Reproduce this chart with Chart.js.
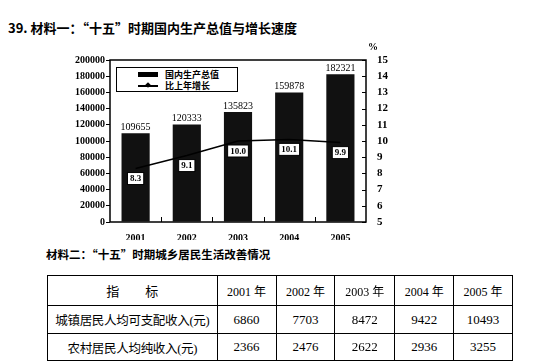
<!DOCTYPE html>
<html>
<head>
<meta charset="utf-8">
<script src="https://cdn.jsdelivr.net/npm/chart.js@4.4.0/dist/chart.umd.min.js"></script>
<style>
  body { margin: 0; width: 553px; height: 363px; background: #fff; position: relative; overflow: hidden; font-family: 'Liberation Serif', 'Noto Sans CJK SC', serif; color: #000; }
  .title1 { position: absolute; left: 8px; top: 18px; font: bold 13px 'Noto Sans CJK SC', sans-serif; white-space: nowrap; }
  .title2 { position: absolute; left: 46px; top: 246px; font: bold 11.5px 'Noto Sans CJK SC', sans-serif; white-space: nowrap; }
  #wrap { position: absolute; left: 0; top: 35px; width: 400px; height: 205px; }
  .pct { position: absolute; left: 368px; top: 41px; font: bold 10px 'Liberation Serif', serif; }
  .legend { position: absolute; left: 116px; top: 67px; width: 120px; height: 23px; border: 1px solid #000; background: #fff; font: bold 9px 'Noto Sans CJK SC', sans-serif; }
  .legend .row { position: absolute; left: 22px; height: 11px; line-height: 11px; white-space: nowrap; }
  .legend .sw { position: absolute; left: -1px; width: 20px; }
  .legend .lbl { position: absolute; left: 26px; top: 0; }
  table { position: absolute; left: 47px; top: 275px; width: 466px; border-collapse: collapse; table-layout: fixed; }
  td { border: 1.5px solid #000; text-align: center; padding: 0; font-size: 13px; white-space: nowrap; overflow: hidden; }
  td.hd { font-size: 12px; }
  td.nm { font-size: 12.5px; letter-spacing: -0.3px; }
</style>
</head>
<body>
<div class="title1">39. 材料一：“十五”时期国内生产总值与增长速度</div>
<div id="wrap"><canvas id="gdpChart" width="400" height="205"></canvas></div>
<div class="pct">%</div>
<div class="legend">
  <div class="row" style="top:1px"><div class="sw" style="top:3px;height:5px;background:#000"></div><div class="lbl">国内生产总值</div></div>
  <div class="row" style="top:12px"><div class="sw" style="top:5px;height:1.5px;background:#000"></div>
    <div style="position:absolute;left:7px;top:3px;width:4px;height:4px;background:#000;transform:rotate(45deg)"></div>
    <div class="lbl">比上年增长</div></div>
</div>
<div class="title2">材料二：“十五”时期城乡居民生活改善情况</div>
<table id="incomeTable"></table>
<script>
const years = ['2001', '2002', '2003', '2004', '2005'];
const gdp = [109655, 120333, 135823, 159878, 182321];
const growth = [8.3, 9.1, 10.0, 10.1, 9.9];

const rowNames = ['城镇居民人均可支配收入(元)', '农村居民人均纯收入(元)'];
const urbanIncome = [6860, 7703, 8472, 9422, 10493];
const ruralIncome = [2366, 2476, 2622, 2936, 3255];

// table from the arrays
const colWidths = [170, 59, 59, 60, 59, 59];
const rowHeights = [30, 28, 27];
const totalW = colWidths.reduce((s, w) => s + w, 0);
const tbl = document.getElementById('incomeTable');
let html = '<colgroup>' + colWidths.map(w => '<col style="width:' + (w / totalW * 100).toFixed(2) + '%">').join('') + '</colgroup>';
html += '<tr style="height:' + rowHeights[0] + 'px"><td>指&emsp;&emsp;标</td>' + years.map(y => '<td class="hd">' + y + ' 年</td>').join('') + '</tr>';
[urbanIncome, ruralIncome].forEach((vals, i) => {
  html += '<tr style="height:' + rowHeights[i + 1] + 'px"><td class="nm">' + rowNames[i] + '</td>' + vals.map(v => '<td>' + v + '</td>').join('') + '</tr>';
});
tbl.innerHTML = html;

const frame = {
  id: 'frame',
  afterDraw(chart) {
    const {ctx, chartArea: a, scales} = chart;
    ctx.save();
    ctx.strokeStyle = '#000';
    ctx.lineWidth = 1.5;
    ctx.strokeRect(a.left, a.top, a.right - a.left, a.bottom - a.top);
    ctx.lineWidth = 1;
    ctx.beginPath();
    for (let i = 1; i < years.length; i++) {
      const px = Math.round((scales.x.getPixelForValue(i - 1) + scales.x.getPixelForValue(i)) / 2) + 0.5;
      ctx.moveTo(px, a.bottom);
      ctx.lineTo(px, a.bottom - 5);
    }
    scales.y1.ticks.forEach(t => {
      const py = Math.round(scales.y1.getPixelForValue(t.value)) + 0.5;
      ctx.moveTo(a.right - 4, py);
      ctx.lineTo(a.right, py);
    });
    ctx.stroke();
    ctx.restore();
  }
};

const labels = {
  id: 'labels',
  afterDatasetsDraw(chart) {
    const ctx = chart.ctx;
    ctx.save();
    ctx.fillStyle = '#000';
    ctx.textAlign = 'center';
    ctx.textBaseline = 'bottom';
    ctx.font = "10px 'Liberation Serif'";
    chart.getDatasetMeta(0).data.forEach((bar, i) => {
      ctx.fillText(String(gdp[i]), bar.x, bar.y - 1);
    });
    ctx.font = "bold 9px 'Liberation Serif'";
    ctx.textBaseline = 'middle';
    chart.getDatasetMeta(1).data.forEach((pt, i) => {
      const txt = growth[i].toFixed(1);
      const w = ctx.measureText(txt).width + 5;
      const h = 12;
      const cy = pt.y + 10;
      ctx.fillStyle = '#fff';
      ctx.fillRect(pt.x - w / 2, cy - h / 2, w, h);
      ctx.strokeStyle = '#000';
      ctx.lineWidth = 1;
      ctx.strokeRect(pt.x - w / 2, cy - h / 2, w, h);
      ctx.fillStyle = '#000';
      ctx.fillText(txt, pt.x, cy + 0.5);
    });
    ctx.restore();
  }
};

Chart.defaults.font.family = "'Liberation Serif', serif";
Chart.defaults.color = '#000';

new Chart(document.getElementById('gdpChart').getContext('2d'), {
  type: 'bar',
  data: {
    labels: years,
    datasets: [{
      label: '国内生产总值',
      data: gdp,
      backgroundColor: '#111',
      barPercentage: 0.55,
      categoryPercentage: 1,
      yAxisID: 'y',
      order: 1
    }, {
      type: 'line',
      label: '比上年增长',
      data: growth,
      borderColor: '#000',
      borderWidth: 1.5,
      tension: 0,
      pointRadius: 0,
      yAxisID: 'y1',
      order: 0
    }]
  },
  options: {
    responsive: false,
    animation: false,
    layout: { padding: { top: 25, left: 0, right: 0, bottom: 0 } },
    plugins: { legend: { display: false }, tooltip: { enabled: false } },
    scales: {
      x: {
        offset: true,
        grid: { display: false },
        border: { display: false },
        ticks: { padding: 2, font: { size: 10, weight: 'bold' } },
        afterFit(s) { s.height = 18; }
      },
      y: {
        position: 'left',
        min: 0, max: 200000,
        grid: { drawOnChartArea: false, tickLength: 4, color: '#000' },
        border: { display: false },
        ticks: { stepSize: 20000, padding: 1, font: { size: 10, weight: 'bold' }, callback: v => String(v) },
        afterFit(s) { s.width = 110; }
      },
      y1: {
        position: 'right',
        min: 5, max: 15,
        grid: { display: false },
        border: { display: false },
        ticks: { stepSize: 1, padding: 3, font: { size: 11, weight: 'bold' } },
        afterFit(s) { s.width = 34; }
      }
    }
  },
  plugins: [frame, labels]
});
</script>
</body>
</html>
